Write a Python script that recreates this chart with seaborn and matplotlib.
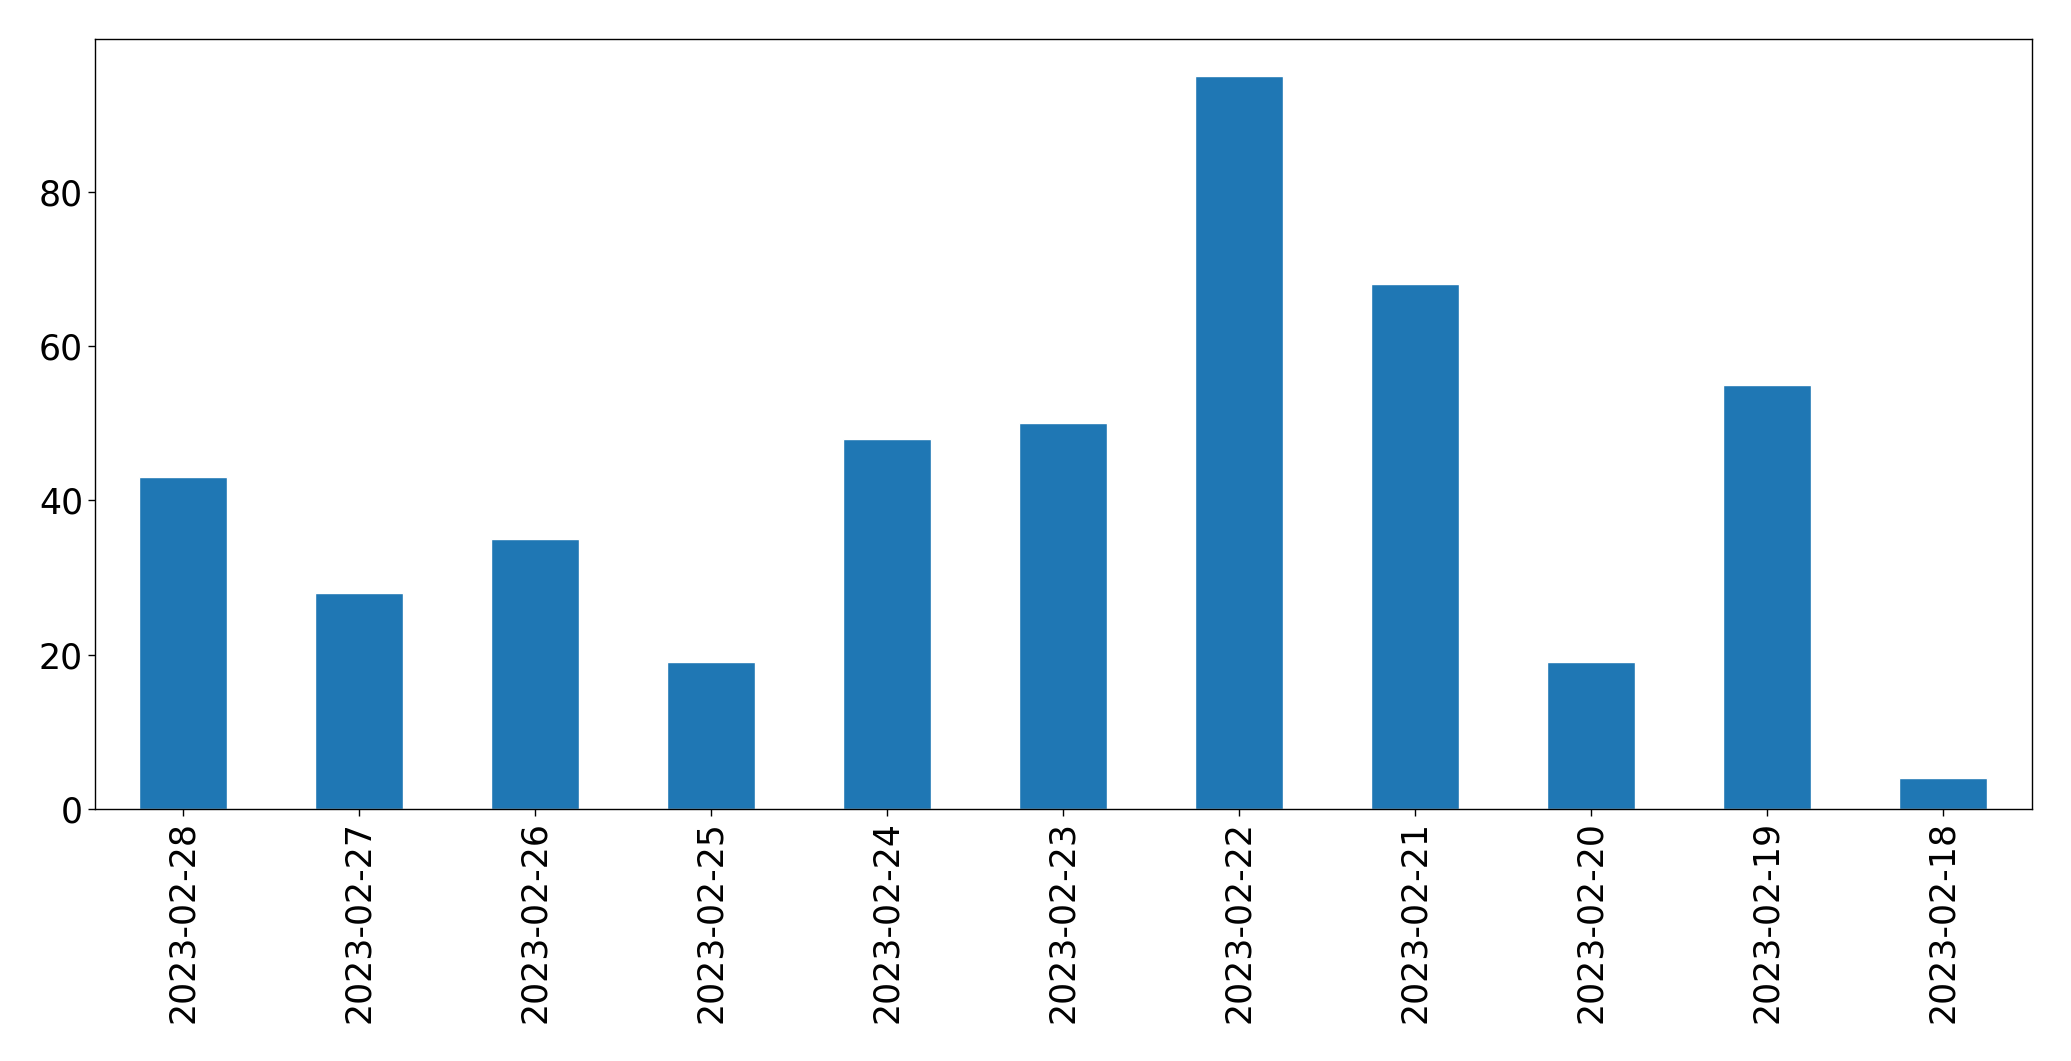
import matplotlib
matplotlib.use("Agg")
import matplotlib.pyplot as plt
import seaborn as sns
import pandas as pd

dates = ["2023-02-28", "2023-02-27", "2023-02-26", "2023-02-25", "2023-02-24",
         "2023-02-23", "2023-02-22", "2023-02-21", "2023-02-20", "2023-02-19",
         "2023-02-18"]
counts = [43, 28, 35, 19, 48, 50, 95, 68, 19, 55, 4]

df = pd.DataFrame({"date": dates, "count": counts})

sns.set_style("white")
plt.rcParams["font.family"] = ["DejaVu Sans"]
plt.rcParams["text.color"] = "black"
plt.rcParams["xtick.color"] = "black"
plt.rcParams["ytick.color"] = "black"

fig = plt.figure(figsize=(20.71, 10.61), dpi=100)
ax = fig.add_axes([94.7 / 2071, 1 - 809 / 1061, (2031.5 - 94.7) / 2071, (809 - 39.3) / 1061])

sns.barplot(data=df, x="date", y="count", order=dates, color="#1f77b4",
            saturation=1, width=0.5, ax=ax)

ax.set_xlim(-0.5, len(dates) - 0.5)
ax.set_ylim(0, max(counts) * 1.05)
ax.set_xlabel("")
ax.set_ylabel("")
ax.tick_params(axis="both", which="major", labelsize=25, length=4.9, width=1,
               color="black", labelcolor="black", direction="out",
               bottom=True, left=True)
plt.setp(ax.get_xticklabels(), rotation=90)
for s in ax.spines.values():
    s.set_color("black")
    s.set_linewidth(1)

fig.savefig("out.png", dpi=100)
